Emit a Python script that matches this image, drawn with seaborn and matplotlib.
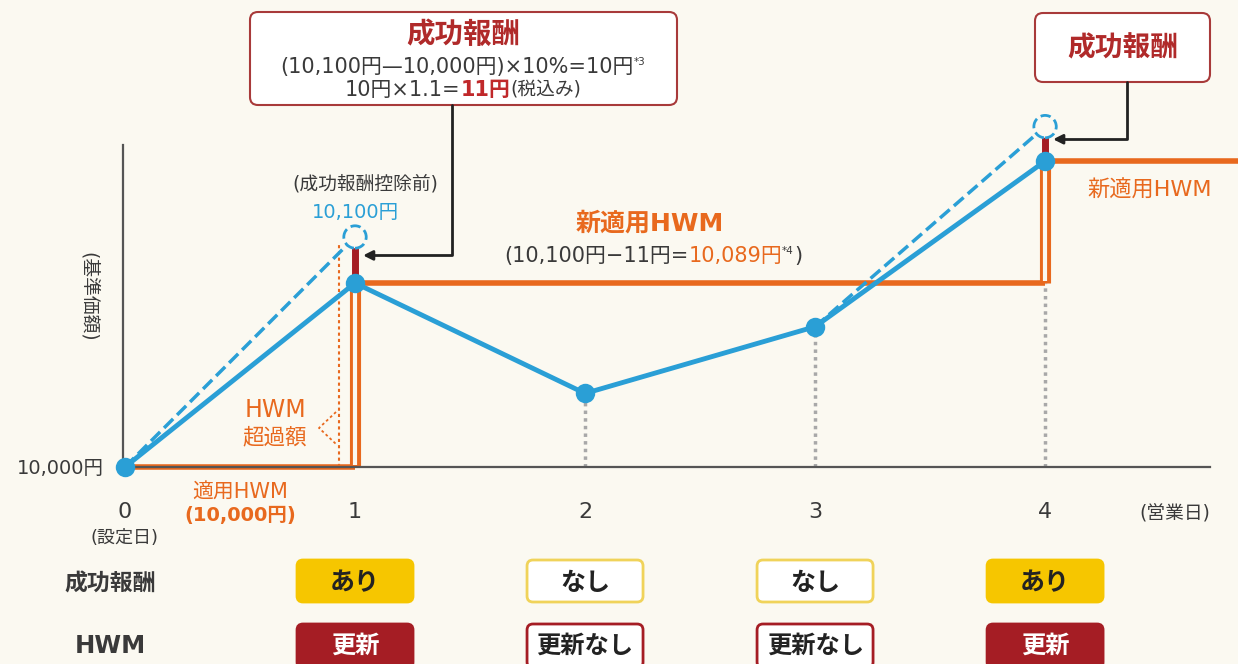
import matplotlib
matplotlib.use("Agg")
import matplotlib.pyplot as plt
from matplotlib.patches import FancyBboxPatch
import seaborn as sns

# 営業日と基準価額（模式図なので目盛りは読み取りの概算）
days = [0, 1, 2, 3, 4]
day_labels = ["0", "1", "2", "3", "4"]
nav = [10000, 10080, 10032, 10061, 10133]          # 成功報酬控除後
nav_before = {1: 10100, 4: 10148}                  # 成功報酬控除前
hwm = [10000, 10080, 10080, 10080, 10133]          # 適用HWM
fee_labels = ["あり", "なし", "なし", "あり"]        # 1〜4営業日
hwm_labels = ["更新", "更新なし", "更新なし", "更新"]

W, H = 1238, 664
BG = "#fbf9f1"
BLUE = "#2a9fd6"
ORANGE = "#e8691e"
DARKRED = "#a51d24"
YELLOW = "#f6c600"
TXT = "#3a3a3a"

sns.set_theme(style = "white", rc = {"figure.facecolor": BG, "axes.facecolor": "none"})
plt.rcParams["font.family"] = ["DejaVu Sans", "Noto Sans CJK JP"]

fig = plt.figure(figsize = (W / 100, H / 100), dpi = 100)
ax = fig.add_axes([123 / W, (H - 467) / H, 1087 / W, 322 / H])
ov = fig.add_axes([0, 0, 1, 1], zorder = 5)
ov.set_xlim(0, W)
ov.set_ylim(H, 0)
ov.axis("off")

ax.set_xlim(-0.0087, 4.717)
ax.set_ylim(10000, 10140)
sns.despine(ax = ax)
for side in ["left", "bottom"]:
    ax.spines[side].set_color("#555555")
    ax.spines[side].set_linewidth(1.6)
ax.set_xticks(days, day_labels)
ax.set_yticks([10000], ["10,000円"])
ax.tick_params(axis = "x", length = 0, pad = 25, labelsize = 16, labelcolor = TXT)
ax.tick_params(axis = "y", length = 0, pad = 14, labelsize = 14, labelcolor = TXT)

# HWM（階段状）
starts = [d for d in days if d == 0 or hwm[d] != hwm[d - 1]]
ends = starts[1:] + [4.84]
ax.hlines([hwm[s] for s in starts], starts, ends, color = ORANGE, lw = 4, clip_on = False, zorder = 2)
for s in starts[1:]:
    ax.vlines(s, hwm[s - 1], hwm[s], color = ORANGE, lw = 8, zorder = 2)
    ax.vlines(s, hwm[s - 1] + 1, hwm[s] - 2, color = BG, lw = 3, zorder = 2)

# 補助の点線
for d in days[1:]:
    top = min(nav[d], hwm[d - 1])
    if top > 10000:
        ax.vlines(d, 10000, top, color = "#a8a8a8", lw = 2.5, linestyle = (0, (1, 1.2)), zorder = 1)

# HWM超過額の点線
ax.vlines(1 - 0.07, hwm[0], nav_before[1] - 3, color = ORANGE, lw = 1.5, linestyle = (0, (1.5, 1.5)), zorder = 1)

# 控除前の破線と成功報酬分
for d, v in nav_before.items():
    sns.lineplot(x = [d - 1, d], y = [nav[d - 1], v], color = BLUE, lw = 2.5, linestyle = "--",
                 clip_on = False, zorder = 3, ax = ax)
    ax.vlines(d, nav[d], v, color = DARKRED, lw = 5, zorder = 3, clip_on = False)
ax.scatter(list(nav_before.keys()), list(nav_before.values()), s = 260, facecolor = BG,
           edgecolor = BLUE, linewidths = 2, linestyles = "--", zorder = 4, clip_on = False)

sns.lineplot(x = days, y = nav, color = BLUE, lw = 3.5, marker = "o", markersize = 14,
             markeredgewidth = 0, zorder = 5, clip_on = False, ax = ax)


def px(d, v):
    x, y = ax.transData.transform((d, v))
    return x, H - y


def rich(xc, yb, parts):
    r = fig.canvas.get_renderer()
    objs = []
    for s, kw in parts:
        kw = dict(kw)
        dy = kw.pop("dy", 0)
        objs.append(ov.text(0, yb - dy, s, ha = "left", va = "baseline", **kw))
    ws = [t.get_window_extent(r).width for t in objs]
    x = xc - sum(ws) / 2
    for t, w in zip(objs, ws):
        t.set_x(x)
        x += w


def box(x0, y0, w, h, face, edge, lw = 1.5, r = 8):
    ov.add_patch(FancyBboxPatch((x0, y0), w, h, boxstyle = f"round,pad=0,rounding_size={r}",
                                facecolor = face, edgecolor = edge, lw = lw))


# 軸まわりのテキスト
ov.text(88, 297, "(基準価額)", rotation = -90, ha = "center", va = "center", size = 13.5, color = TXT)
ov.text(125, 538, "(設定日)", ha = "center", va = "center", size = 13, color = TXT)
ov.text(1175, 513, "(営業日)", ha = "center", va = "center", size = 13.5, color = TXT)
ov.text(240, 493, "適用HWM", ha = "center", va = "center", size = 15, color = ORANGE)
ov.text(240, 516, "(10,000円)", ha = "center", va = "center", size = 14, color = ORANGE, weight = "bold")
ov.text(275, 410, "HWM", ha = "center", va = "center", size = 17, color = ORANGE)
ov.text(275, 437, "超過額", ha = "center", va = "center", size = 15.5, color = ORANGE)
ov.plot([336, 319, 336], [412, 428, 444], color = ORANGE, lw = 1.3, linestyle = (0, (1.5, 1.5)))

ov.text(365, 184, "(成功報酬控除前)", ha = "center", va = "center", size = 13.5, color = TXT)
ov.text(355, 212, "10,100円", ha = "center", va = "center", size = 14, color = BLUE)

ov.text(650, 224, "新適用HWM", ha = "center", va = "center", size = 18, color = ORANGE, weight = "bold")
rich(653, 262, [("(10,100円−11円=", dict(size = 15, color = TXT)),
                ("10,089円", dict(size = 15, color = ORANGE)),
                ("*4", dict(size = 7.5, color = TXT, dy = 8)),
                (")", dict(size = 15, color = TXT))])
ov.text(1150, 190, "新適用HWM", ha = "center", va = "center", size = 16, color = ORANGE)

# 上部の吹き出し
box(250, 12, 427, 93, "white", "#a83a3a")
ov.text(463, 35, "成功報酬", ha = "center", va = "center", size = 20.5, color = "#b02a2a", weight = "bold")
rich(463, 73, [("(10,100円—10,000円)×10%=10円", dict(size = 15, color = TXT)),
               ("*3", dict(size = 7.5, color = TXT, dy = 8))])
rich(463, 96, [("10円×1.1=", dict(size = 15, color = TXT)),
               ("11円", dict(size = 15, color = "#c0282a", weight = "bold")),
               ("(税込み)", dict(size = 13.5, color = TXT))])
box(1035, 13, 175, 69, "white", "#a83a3a")
ov.text(1123, 48, "成功報酬", ha = "center", va = "center", size = 20, color = "#b02a2a", weight = "bold")

for d, bx, by in [(1, 452, 105), (4, 1127, 82)]:
    tx, ty = px(d, (nav[d] + nav_before[d]) / 2 + 2)
    ov.annotate("", xy = (tx + 8, ty), xytext = (bx, by),
                arrowprops = dict(arrowstyle = "-|>", color = "#222222", lw = 2, mutation_scale = 14,
                                  connectionstyle = "angle,angleA=90,angleB=0,rad=0",
                                  shrinkA = 0, shrinkB = 0))

# 下段の表
ov.text(110, 584, "成功報酬", ha = "center", va = "center", size = 16.5, color = TXT, weight = "bold")
ov.text(110, 646, "HWM", ha = "center", va = "center", size = 17.5, color = TXT, weight = "bold")
for d, fl, hl in zip(days[1:], fee_labels, hwm_labels):
    cx, _ = px(d, 10000)
    on = fl == "あり"
    box(cx - 58, 560, 116, 42, YELLOW if on else "white", YELLOW if on else "#f0d35a", lw = 2, r = 6)
    ov.text(cx, 583, fl, ha = "center", va = "center", size = 18, color = "#222222", weight = "bold")
    up = hl == "更新"
    box(cx - 58, 624, 116, 44, DARKRED if up else "white", DARKRED, lw = 2, r = 6)
    ov.text(cx, 646, hl, ha = "center", va = "center", size = 17.5,
            color = "white" if up else "#222222", weight = "bold")

fig.savefig("out.png", dpi = 100, facecolor = BG)
